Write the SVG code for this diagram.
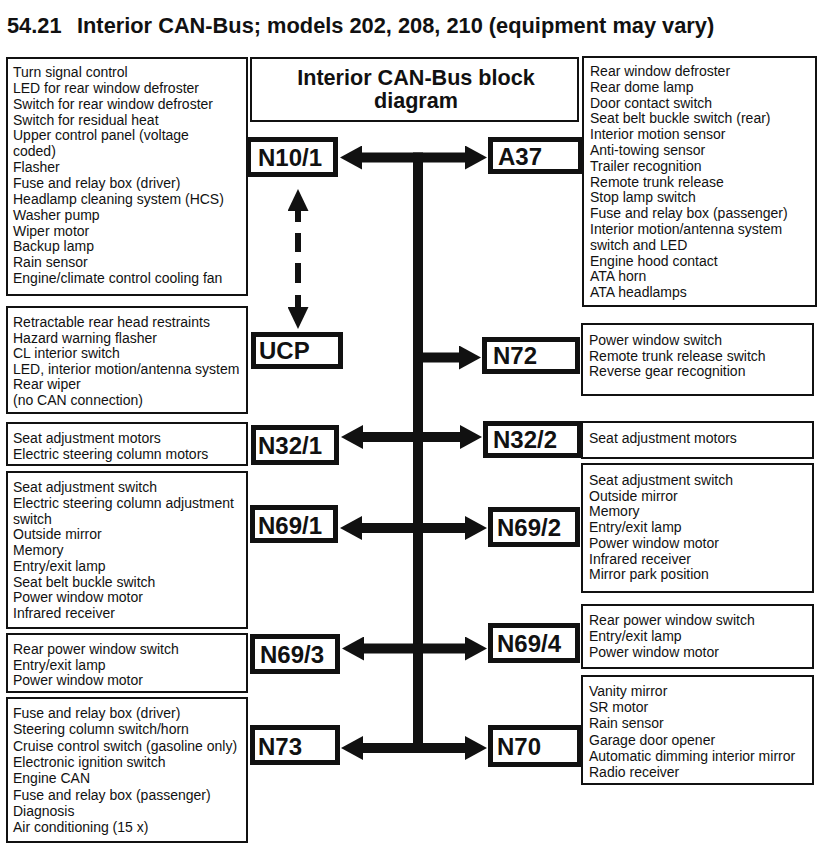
<svg xmlns="http://www.w3.org/2000/svg" width="829" height="854" viewBox="0 0 829 854">
<style>
text{font-family:"Liberation Sans",Arial,Helvetica,sans-serif;fill:#111}
.title{font-size:21.8px;font-weight:bold}
.head{font-size:21.6px;font-weight:bold}
.lbl{font-size:24px;font-weight:bold}
.lst{font-size:14px}
.lbox{fill:#fff;stroke:#111;stroke-width:2}
.nbox{fill:#fff;stroke:#111;stroke-width:5}
.bus{fill:none;stroke:#111;stroke-width:10}
.dash{fill:none;stroke:#111;stroke-width:6;stroke-dasharray:12 11 19 11 20 12 13 50}
</style>
<defs>
<marker id="ah" viewBox="0 0 22 24" markerUnits="userSpaceOnUse" markerWidth="22" markerHeight="24" refX="1" refY="12" orient="auto-start-reverse">
<path d="M0,0 L22,12 L0,24 z" fill="#111"/>
</marker>
<marker id="ahd" viewBox="0 0 22 21" markerUnits="userSpaceOnUse" markerWidth="22" markerHeight="21" refX="1" refY="10.5" orient="auto-start-reverse">
<path d="M0,0 L22,10.5 L0,21 z" fill="#111"/>
</marker>
</defs>
<rect width="829" height="854" fill="#fff"/>
<text class="title" x="7" y="33">54.21<tspan x="77">Interior CAN-Bus; models 202, 208, 210 (equipment may vary)</tspan></text>

<g id="connectors">
<path class="bus" d="M418 152.5V753"/>
<path class="bus" d="M361 157.5H466" marker-start="url(#ah)" marker-end="url(#ah)"/>
<path class="bus" d="M418 357.5H460" marker-end="url(#ah)"/>
<path class="bus" d="M362 437H461" marker-start="url(#ah)" marker-end="url(#ah)"/>
<path class="bus" d="M361 528H466" marker-start="url(#ah)" marker-end="url(#ah)"/>
<path class="bus" d="M363 648.5H466" marker-start="url(#ah)" marker-end="url(#ah)"/>
<path class="bus" d="M362 748H466" marker-start="url(#ah)" marker-end="url(#ah)"/>
<path class="dash" d="M298 210V308" marker-start="url(#ahd)" marker-end="url(#ahd)"/>
</g>

<g id="title-box">
<rect class="lbox" x="251" y="58" width="327" height="63"/>
<text class="head" x="416" y="85" text-anchor="middle">Interior CAN-Bus block</text>
<text class="head" x="416" y="108" text-anchor="middle">diagram</text>
</g>

<g id="list-n10-1">
<rect class="lbox" x="7" y="58" width="240" height="237"/>
<text class="lst" x="13" y="77">Turn signal control<tspan x="13" dy="15.85">LED for rear window defroster</tspan><tspan x="13" dy="15.85">Switch for rear window defroster</tspan><tspan x="13" dy="15.85">Switch for residual heat</tspan><tspan x="13" dy="15.85">Upper control panel (voltage</tspan><tspan x="13" dy="15.85">coded)</tspan><tspan x="13" dy="15.85">Flasher</tspan><tspan x="13" dy="15.85">Fuse and relay box (driver)</tspan><tspan x="13" dy="15.85">Headlamp cleaning system (HCS)</tspan><tspan x="13" dy="15.85">Washer pump</tspan><tspan x="13" dy="15.85">Wiper motor</tspan><tspan x="13" dy="15.85">Backup lamp</tspan><tspan x="13" dy="15.85">Rain sensor</tspan><tspan x="13" dy="15.85">Engine/climate control cooling fan</tspan></text>
</g>
<g id="n10-1">
<rect class="nbox" x="248.5" y="139.5" width="87" height="35"/>
<text class="lbl" x="258" y="166">N10/1</text>
</g>

<g id="list-a37">
<rect class="lbox" x="583" y="57" width="233" height="249"/>
<text class="lst" x="590" y="76">Rear window defroster<tspan x="590" dy="15.8">Rear dome lamp</tspan><tspan x="590" dy="15.8">Door contact switch</tspan><tspan x="590" dy="15.8">Seat belt buckle switch (rear)</tspan><tspan x="590" dy="15.8">Interior motion sensor</tspan><tspan x="590" dy="15.8">Anti-towing sensor</tspan><tspan x="590" dy="15.8">Trailer recognition</tspan><tspan x="590" dy="15.8">Remote trunk release</tspan><tspan x="590" dy="15.8">Stop lamp switch</tspan><tspan x="590" dy="15.8">Fuse and relay box (passenger)</tspan><tspan x="590" dy="15.8">Interior motion/antenna system</tspan><tspan x="590" dy="15.8">switch and LED</tspan><tspan x="590" dy="15.8">Engine hood contact</tspan><tspan x="590" dy="15.8">ATA horn</tspan><tspan x="590" dy="15.8">ATA headlamps</tspan></text>
</g>
<g id="a37">
<rect class="nbox" x="490.5" y="139.5" width="90" height="32"/>
<text class="lbl" x="498" y="165">A37</text>
</g>

<g id="list-ucp">
<rect class="lbox" x="7" y="307" width="240" height="106"/>
<text class="lst" x="13" y="327">Retractable rear head restraints<tspan x="13" dy="15.6">Hazard warning flasher</tspan><tspan x="13" dy="15.6">CL interior switch</tspan><tspan x="13" dy="15.6">LED, interior motion/antenna system</tspan><tspan x="13" dy="15.6">Rear wiper</tspan><tspan x="13" dy="15.6">(no CAN connection)</tspan></text>
</g>
<g id="ucp">
<rect class="nbox" x="253.5" y="334.5" width="87" height="32"/>
<text class="lbl" x="259" y="359">UCP</text>
</g>

<g id="list-n72">
<rect class="lbox" x="582" y="324" width="231" height="71"/>
<text class="lst" x="589" y="345">Power window switch<tspan x="589" dy="15.6">Remote trunk release switch</tspan><tspan x="589" dy="15.6">Reverse gear recognition</tspan></text>
</g>
<g id="n72">
<rect class="nbox" x="484.5" y="339.5" width="93" height="32"/>
<text class="lbl" x="493" y="364">N72</text>
</g>

<g id="list-n32-1">
<rect class="lbox" x="7" y="423" width="240" height="42"/>
<text class="lst" x="13" y="443">Seat adjustment motors<tspan x="13" dy="15.5">Electric steering column motors</tspan></text>
</g>
<g id="n32-1">
<rect class="nbox" x="253.5" y="427.5" width="83" height="35"/>
<text class="lbl" x="258" y="454">N32/1</text>
</g>

<g id="list-n32-2">
<rect class="lbox" x="582" y="422" width="231" height="36"/>
<text class="lst" x="589" y="443">Seat adjustment motors</text>
</g>
<g id="n32-2">
<rect class="nbox" x="485.5" y="423.5" width="94" height="32"/>
<text class="lbl" x="493" y="448">N32/2</text>
</g>

<g id="list-n69-1">
<rect class="lbox" x="7" y="472" width="240" height="156"/>
<text class="lst" x="13" y="492">Seat adjustment switch<tspan x="13" dy="15.75">Electric steering column adjustment</tspan><tspan x="13" dy="15.75">switch</tspan><tspan x="13" dy="15.75">Outside mirror</tspan><tspan x="13" dy="15.75">Memory</tspan><tspan x="13" dy="15.75">Entry/exit lamp</tspan><tspan x="13" dy="15.75">Seat belt buckle switch</tspan><tspan x="13" dy="15.75">Power window motor</tspan><tspan x="13" dy="15.75">Infrared receiver</tspan></text>
</g>
<g id="n69-1">
<rect class="nbox" x="252.5" y="507.5" width="83" height="33"/>
<text class="lbl" x="258" y="534">N69/1</text>
</g>

<g id="list-n69-2">
<rect class="lbox" x="582" y="464" width="231" height="128"/>
<text class="lst" x="589" y="485">Seat adjustment switch<tspan x="589" dy="15.7">Outside mirror</tspan><tspan x="589" dy="15.7">Memory</tspan><tspan x="589" dy="15.7">Entry/exit lamp</tspan><tspan x="589" dy="15.7">Power window motor</tspan><tspan x="589" dy="15.7">Infrared receiver</tspan><tspan x="589" dy="15.7">Mirror park position</tspan></text>
</g>
<g id="n69-2">
<rect class="nbox" x="490.5" y="509.5" width="87" height="35"/>
<text class="lbl" x="497" y="536">N69/2</text>
</g>

<g id="list-n69-3">
<rect class="lbox" x="7" y="634" width="240" height="58"/>
<text class="lst" x="13" y="654">Rear power window switch<tspan x="13" dy="15.7">Entry/exit lamp</tspan><tspan x="13" dy="15.7">Power window motor</tspan></text>
</g>
<g id="n69-3">
<rect class="nbox" x="252.5" y="636.5" width="85" height="35"/>
<text class="lbl" x="260" y="663">N69/3</text>
</g>

<g id="list-n69-4">
<rect class="lbox" x="582" y="605" width="231" height="63"/>
<text class="lst" x="589" y="625">Rear power window switch<tspan x="589" dy="16">Entry/exit lamp</tspan><tspan x="589" dy="16">Power window motor</tspan></text>
</g>
<g id="n69-4">
<rect class="nbox" x="490.5" y="625.5" width="87" height="35"/>
<text class="lbl" x="497" y="652">N69/4</text>
</g>

<g id="list-n73">
<rect class="lbox" x="7" y="698" width="240" height="144"/>
<text class="lst" x="13" y="718">Fuse and relay box (driver)<tspan x="13" dy="16.3">Steering column switch/horn</tspan><tspan x="13" dy="16.3">Cruise control switch (gasoline only)</tspan><tspan x="13" dy="16.3">Electronic ignition switch</tspan><tspan x="13" dy="16.3">Engine CAN</tspan><tspan x="13" dy="16.3">Fuse and relay box (passenger)</tspan><tspan x="13" dy="16.3">Diagnosis</tspan><tspan x="13" dy="16.3">Air conditioning (15 x)</tspan></text>
</g>
<g id="n73">
<rect class="nbox" x="252.5" y="727.5" width="85" height="35"/>
<text class="lbl" x="258" y="755">N73</text>
</g>

<g id="list-n70">
<rect class="lbox" x="582" y="676" width="231" height="108"/>
<text class="lst" x="589" y="696">Vanity mirror<tspan x="589" dy="16.2">SR motor</tspan><tspan x="589" dy="16.2">Rain sensor</tspan><tspan x="589" dy="16.2">Garage door opener</tspan><tspan x="589" dy="16.2">Automatic dimming interior mirror</tspan><tspan x="589" dy="16.2">Radio receiver</tspan></text>
</g>
<g id="n70">
<rect class="nbox" x="490.5" y="727.5" width="89" height="37"/>
<text class="lbl" x="497" y="755">N70</text>
</g>
</svg>
